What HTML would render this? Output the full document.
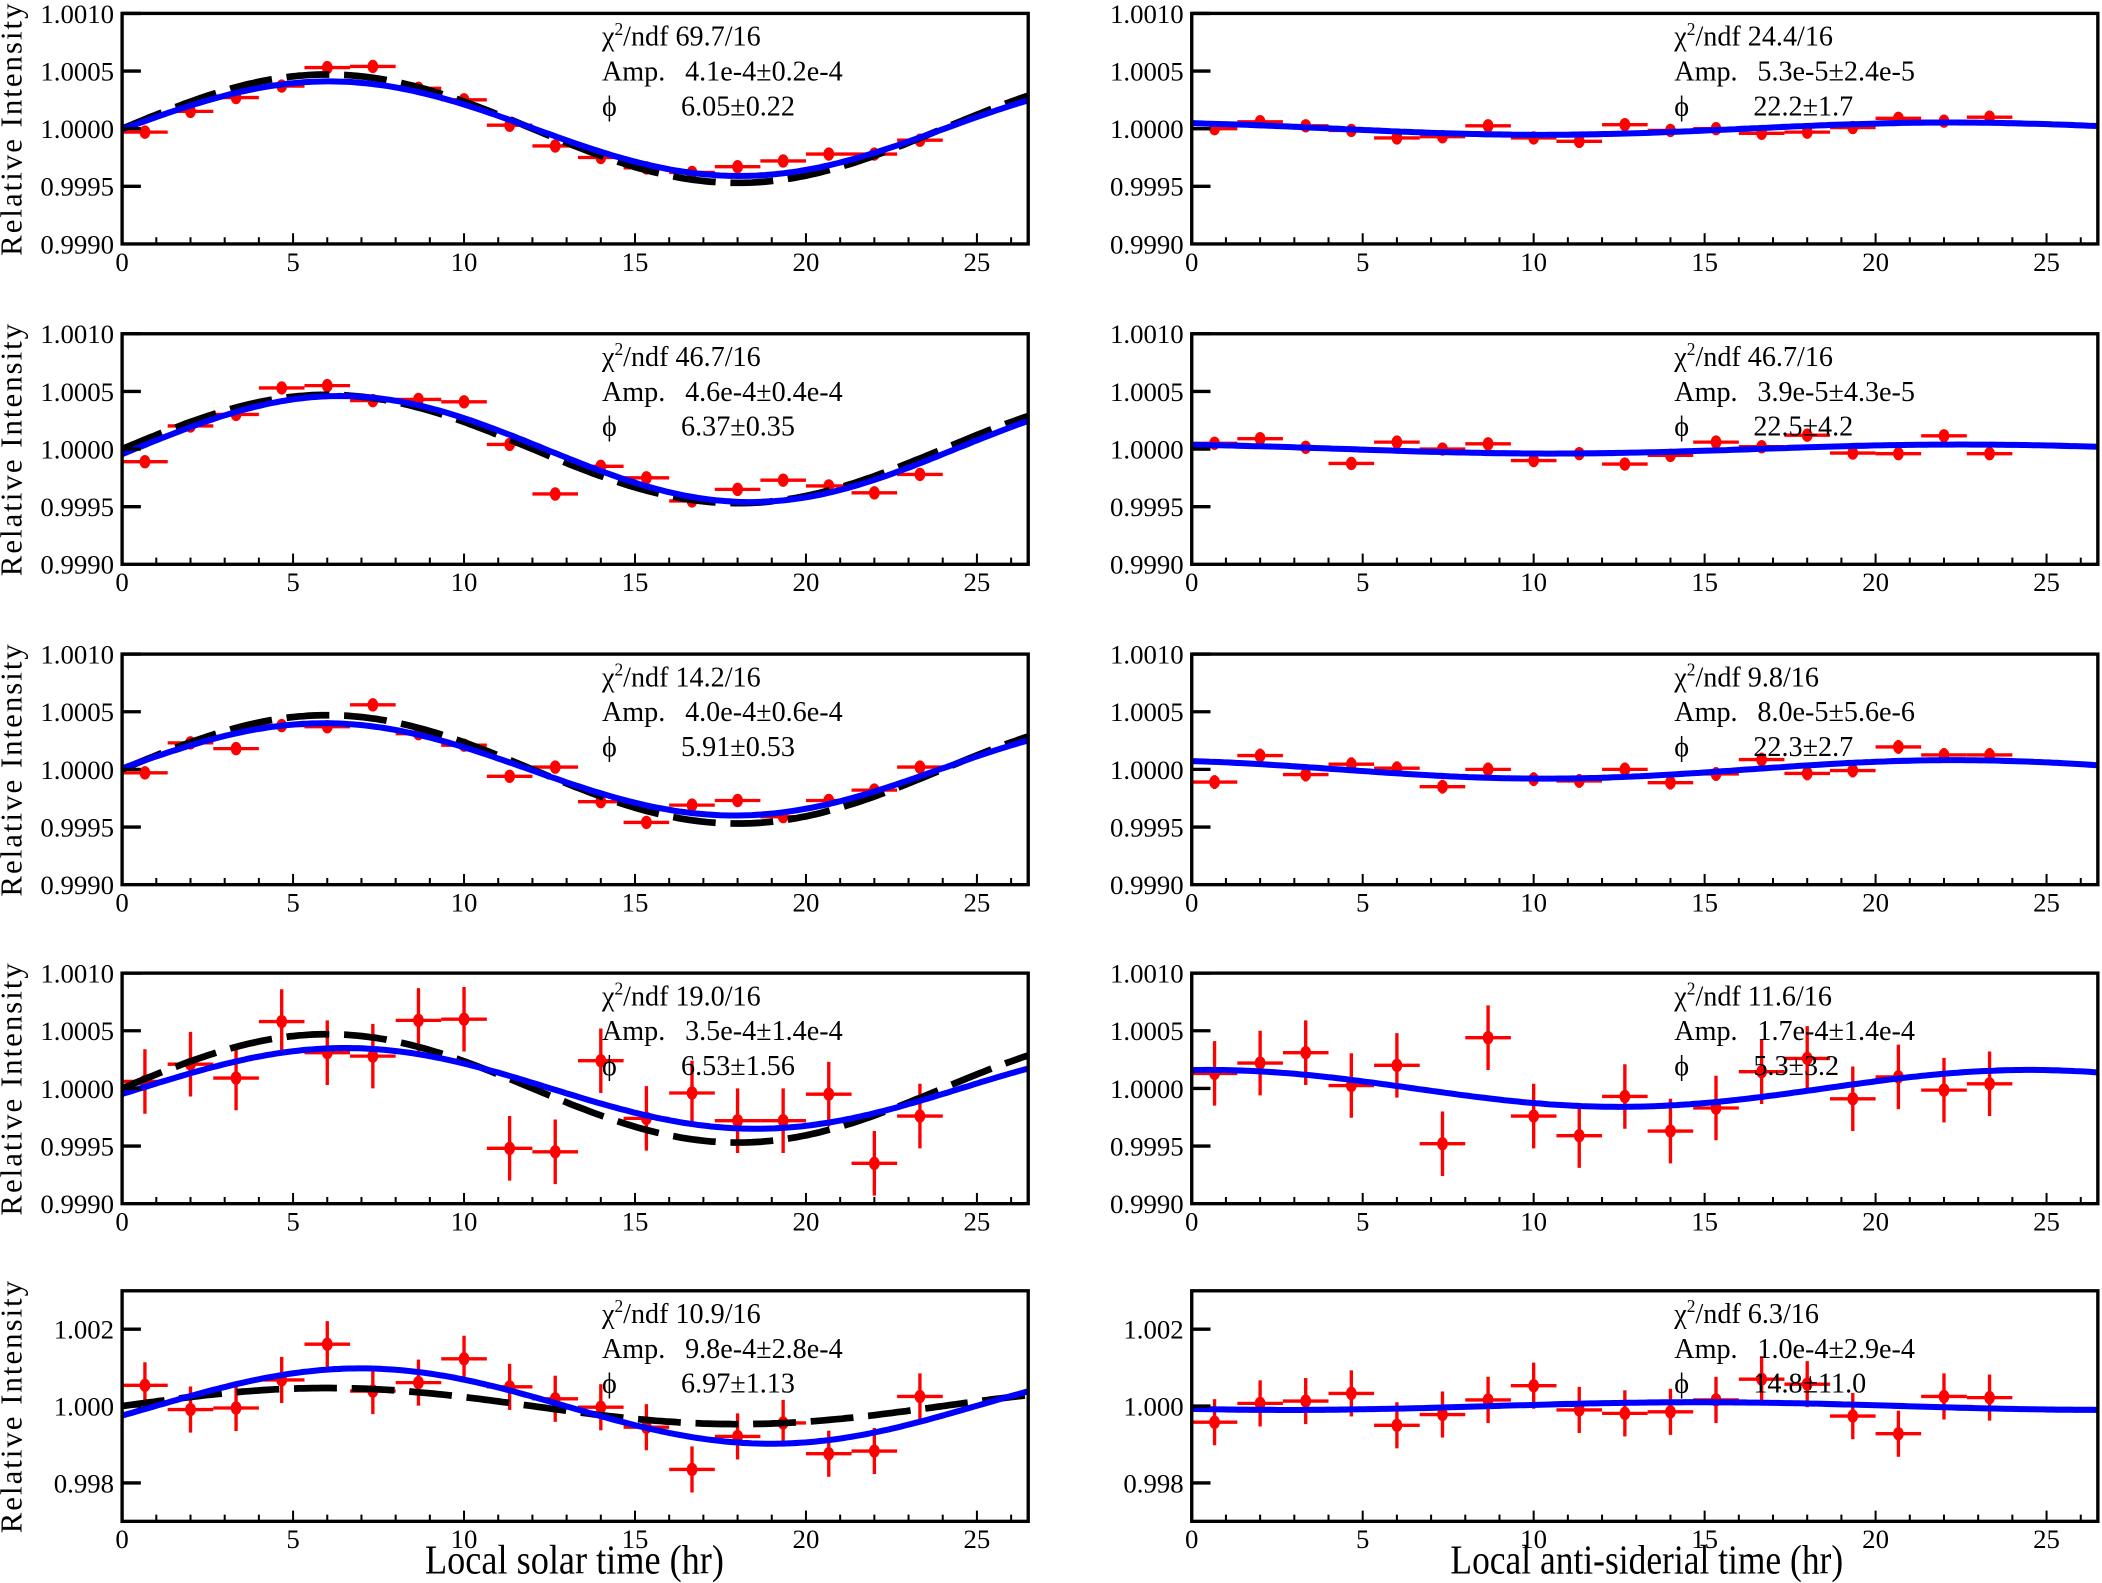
<!DOCTYPE html>
<html><head><meta charset="utf-8"><style>
html,body{margin:0;padding:0;background:#fff}
svg{display:block}
text{font-family:"Liberation Serif",serif;fill:#000}
</style></head><body>
<svg id="chart" width="2102" height="1583" viewBox="0 0 1568 1181" xmlns="http://www.w3.org/2000/svg"></svg>
<script>
const xCenters=[0.667,2,3.333,4.667,6,7.333,8.667,10,11.333,12.667,14,15.333,16.667,18,19.333,20.667,22,23.333];
const solar1=[-0.3,1.5,2.7,3.7,5.3,5.4,3.5,2.5,0.3,-1.5,-2.5,-3.4,-3.8,-3.3,-2.8,-2.2,-2.2,-1.0];
const solar2=[-1.1,2.0,3.0,5.3,5.5,4.2,4.3,4.1,0.4,-3.9,-1.5,-2.5,-4.5,-3.5,-2.7,-3.2,-3.8,-2.2];
const solar3=[-0.3,2.3,1.8,3.8,3.7,5.6,3.1,2.1,-0.6,0.2,-2.8,-4.6,-3.1,-2.7,-4.1,-2.7,-1.8,0.2];
const solar4=[0.6,2.1,0.9,5.8,3.1,2.8,5.9,6.0,-5.2,-5.5,2.4,-2.6,-0.4,-2.8,-2.8,-0.5,-6.5,-2.4];
const solar5=[5.4,-0.9,-0.5,6.8,16.1,3.9,6.1,12.3,5.0,1.9,-0.3,-5.5,-16.5,-7.9,-4.4,-12.4,-11.7,2.5];
const side1=[0,0.6,0.25,-0.15,-0.8,-0.7,0.25,-0.8,-1.1,0.35,-0.15,0,-0.4,-0.3,0.1,0.9,0.65,1.0];
const side2=[0.5,0.9,0.15,-1.25,0.6,0,0.45,-1.0,-0.4,-1.3,-0.55,0.6,0.2,1.2,-0.35,-0.4,1.15,-0.4];
const side3=[-1.1,1.2,-0.45,0.45,0.1,-1.5,0,-0.85,-1.0,0,-1.15,-0.4,0.85,-0.35,-0.1,1.95,1.25,1.25];
const side4=[1.3,2.2,3.1,0.25,2.0,-4.8,4.4,-2.4,-4.1,-0.7,-3.7,-1.7,1.45,2.6,-0.9,1.0,-0.15,0.4];
const side5=[-4.2,0.7,1.3,3.3,-5.0,-2.2,1.6,5.3,-1.0,-1.9,-1.5,1.6,7.0,5.7,-2.6,-7.2,2.5,2.2];
const errs=[0.2,0.3,0.5,2.8,6,0.3,0.4,0.6,2.8,6];
const fitAmp=[4.1,4.6,4.0,3.5,9.8,0.53,0.39,0.8,1.6,1.0];
const fitPhase=[6.05,6.37,5.91,6.53,6.97,22.2,22.5,22.3,0.5,14.8];
const refAmp=[4.7,4.7,4.7,4.7,4.7];
const refPhase=[6.0,6.0,6.0,6.0,6.0];
const chi=["69.7/16","46.7/16","14.2/16","19.0/16","10.9/16","24.4/16","46.7/16","9.8/16","11.6/16","6.3/16"];
const ampTxt=["4.1e-4\u00b10.2e-4","4.6e-4\u00b10.4e-4","4.0e-4\u00b10.6e-4","3.5e-4\u00b11.4e-4","9.8e-4\u00b12.8e-4","5.3e-5\u00b12.4e-5","3.9e-5\u00b14.3e-5","8.0e-5\u00b15.6e-6","1.7e-4\u00b11.4e-4","1.0e-4\u00b12.9e-4"];
const phiTxt=["6.05\u00b10.22","6.37\u00b10.35","5.91\u00b10.53","6.53\u00b11.56","6.97\u00b11.13","22.2\u00b11.7","22.5\u00b14.2","22.3\u00b12.7","5.3\u00b13.2","14.8\u00b111.0"];
const yTicksFine=["1.0010","1.0005","1.0000","0.9995","0.9990"];
const yTicksWide=["1.002","1.000","0.998"];
const xTicks=[0,5,10,15,20,25];

const svg=document.getElementById('chart');
const NS="http://www.w3.org/2000/svg";
function mk(tag,attrs,parent){const e=document.createElementNS(NS,tag);for(const k in attrs)e.setAttribute(k,attrs[k]);(parent||svg).appendChild(e);return e;}
const series=[solar1,solar2,solar3,solar4,solar5,side1,side2,side3,side4,side5];
const tops=[10,249,488,726,963];
const lefts=[91,889];
const W=676,H=172,XMAX=26.5;

for(let p=0;p<10;p++){
  const col=p<5?0:1,row=p%5;
  const x0=lefts[col],y0=tops[row];
  const wide=row===4;
  const yMin=wide?-30:-10,yMax=wide?30:10;
  const sx=v=>x0+v/XMAX*W;
  const sy=v=>y0+H-(v-yMin)/(yMax-yMin)*H;
  const g=mk('g',{});
  
  
  let dBlue='',dBlack='';
  for(let i=0;i<=200;i++){const t=i/200*XMAX;
    const vb=fitAmp[p]*Math.cos(2*Math.PI*(t-fitPhase[p])/24);
    dBlue+=(i?'L':'M')+sx(t).toFixed(1)+' '+sy(vb).toFixed(1);
    if(col===0){const vk=refAmp[row]*Math.cos(2*Math.PI*(t-refPhase[row])/24);dBlack+=(i?'L':'M')+sx(t).toFixed(1)+' '+sy(vk).toFixed(1);}
  }
  const data=series[p];
  for(let i=0;i<data.length;i++){
    const cx=sx(xCenters[i]),cy=sy(data[i]),e=errs[p];
    const pt=mk('g',{},g);
    
    
    mk('line',{x1:sx(xCenters[i]-0.667),x2:sx(xCenters[i]+0.667),y1:cy,y2:cy,stroke:'#ff0000','stroke-width':2.5},pt);
    mk('line',{x1:cx,x2:cx,y1:sy(data[i]-e),y2:sy(data[i]+e),stroke:'#ff0000','stroke-width':2.5},pt);
    mk('ellipse',{cx:cx,cy:cy,rx:4,ry:5,fill:'#ff0000'},pt);
  }
  if(col===0){const bl=mk('path',{d:dBlack,fill:'none',stroke:'#000','stroke-width':5,'stroke-dasharray':'32 11'},g);
    
    }
  const bp=mk('path',{d:dBlue,fill:'none',stroke:'#0000ff','stroke-width':4.5},g);
  
  
  const fr=mk('rect',{x:x0,y:y0,width:W,height:H,fill:'none',stroke:'#000','stroke-width':2.5},g);
  
  
  for(let t=1;t<=26;t++){const big=t%5===0;mk('line',{x1:sx(t),x2:sx(t),y1:y0+H,y2:y0+H-(big?8:5),stroke:'#000','stroke-width':1.5},g);}
  xTicks.forEach(t=>{const tx=mk('text',{x:sx(t),y:y0+H+20,'font-size':20,'text-anchor':'middle'},g);tx.textContent=t;
    
    });
  const labs=wide?yTicksWide:yTicksFine;
  labs.forEach(l=>{const v=(parseFloat(l)-1)*1e4;const y=sy(v);
    if(v>yMin&&v<yMax)mk('line',{x1:x0,x2:x0+14,y1:y,y2:y,stroke:'#000','stroke-width':2.5},g);
    const tx=mk('text',{x:x0-6,y:y+7,'font-size':20,'text-anchor':'end'},g);tx.textContent=l;
    
    });
  const bx=col?1249:449;
  const st=mk('g',{'font-size':21},g);
  
  
  const t1=mk('text',{x:bx,y:y0+24},st);t1.innerHTML='χ<tspan dy="-8" font-size="13">2</tspan><tspan dy="8">/ndf  '+chi[p]+'</tspan>';
  t1.setAttribute('xml:space','preserve');
  const t2=mk('text',{x:bx,y:y0+50},st);t2.textContent='Amp.';
  const t2b=mk('text',{x:bx+62,y:y0+50},st);t2b.textContent=ampTxt[p];
  const t3=mk('text',{x:bx,y:y0+76},st);t3.textContent='ϕ';
  const t3b=mk('text',{x:bx+59,y:y0+76},st);t3b.textContent=phiTxt[p];
  if(col===0){const yl=mk('text',{x:0,y:0,'font-size':23,'text-anchor':'middle',transform:`translate(16,${y0+H/2}) rotate(-90)`,'letter-spacing':'1.5'},g);
    yl.textContent='Relative Intensity';
    
    }
}
const xa=mk('text',{x:317,y:1174,'font-size':31,textLength:223,lengthAdjust:'spacingAndGlyphs'});xa.textContent='Local solar time (hr)';


const xb=mk('text',{x:1082,y:1174,'font-size':31,textLength:293,lengthAdjust:'spacingAndGlyphs'});xb.textContent='Local anti-siderial time (hr)';


</script>
</body></html>
